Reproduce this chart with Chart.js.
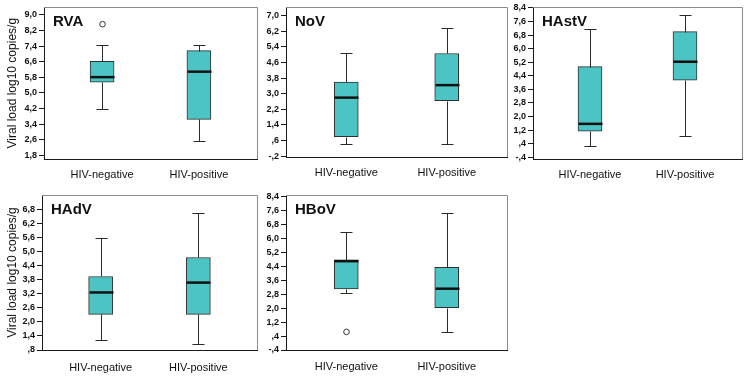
<!DOCTYPE html>
<html><head><meta charset="utf-8">
<script src="https://cdn.jsdelivr.net/npm/chart.js@4.4.0/dist/chart.umd.min.js"></script>
<style>
html,body{margin:0;padding:0;background:#fff;}
#wrap{position:relative;width:750px;height:379px;overflow:hidden;background:#fff;}
canvas{position:absolute;}
</style></head><body>
<div id="wrap">
<canvas id="c0"></canvas><canvas id="c1"></canvas><canvas id="c2"></canvas><canvas id="c3"></canvas><canvas id="c4"></canvas>
</div>
<script>
const groups = ['HIV-negative', 'HIV-positive'];
// each: [lower whisker, Q1, median, Q3, upper whisker]
const rvaNeg = [4.18, 5.55, 5.81, 6.62, 7.44];
const rvaPos = [2.54, 3.65, 6.09, 7.17, 7.44];
const rvaOutliers = [[8.52], []];
const rvaTicks = [1.8, 2.6, 3.4, 4.2, 5.0, 5.8, 6.6, 7.4, 8.2, 9.0];

const novNeg = [0.41, 0.80, 2.80, 3.60, 5.06];
const novPos = [0.41, 2.64, 3.44, 5.06, 6.39];
const novOutliers = [[], []];
const novTicks = [-0.2, 0.6, 1.4, 2.2, 3.0, 3.8, 4.6, 5.4, 6.2, 7.0];

const hastvNeg = [0.28, 1.14, 1.57, 4.94, 7.13];
const hastvPos = [0.87, 4.14, 5.23, 7.00, 7.97];
const hastvOutliers = [[], []];
const hastvTicks = [-0.4, 0.4, 1.2, 2.0, 2.8, 3.6, 4.4, 5.2, 6.0, 6.8, 7.6, 8.4];

const hadvNeg = [1.21, 2.32, 3.25, 3.93, 5.57];
const hadvPos = [1.07, 2.32, 3.67, 4.74, 6.64];
const hadvOutliers = [[], []];
const hadvTicks = [0.8, 1.4, 2.0, 2.6, 3.2, 3.8, 4.4, 5.0, 5.6, 6.2, 6.8];

const hbovNeg = [2.86, 3.10, 4.70, 4.78, 6.39];
const hbovPos = [0.66, 2.03, 3.12, 4.35, 7.48];
const hbovOutliers = [[0.64], []];
const hbovTicks = [-0.4, 0.4, 1.2, 2.0, 2.8, 3.6, 4.4, 5.2, 6.0, 6.8, 7.6, 8.4];

const yTitle = 'Viral load log10 copies/g';

const panels = [
  {id:'c0', name:'RVA', stats:[rvaNeg, rvaPos], out:rvaOutliers, ticks:rvaTicks, min:1.62, max:9.38,
   box:{x:0, y:0, w:262, h:185}, area:{l:44, t:7, r:257, b:159}, title:true, xpad:1},
  {id:'c1', name:'NoV', stats:[novNeg, novPos], out:novOutliers, ticks:novTicks, min:-0.24, max:7.42,
   box:{x:262, y:0, w:250, h:185}, area:{l:286, t:7, r:507, b:157}, title:false, xpad:1},
  {id:'c2', name:'HAstV', stats:[hastvNeg, hastvPos], out:hastvOutliers, ticks:hastvTicks, min:-0.5, max:8.43,
   box:{x:512, y:0, w:238, h:185}, area:{l:533, t:7, r:742, b:159}, title:false, xpad:1},
  {id:'c3', name:'HAdV', stats:[hadvNeg, hadvPos], out:hadvOutliers, ticks:hadvTicks, min:0.8, max:7.4,
   box:{x:0, y:185, w:262, h:194}, area:{l:42, t:195, r:257, b:350}, title:true, xpad:3},
  {id:'c4', name:'HBoV', stats:[hbovNeg, hbovPos], out:hbovOutliers, ticks:hbovTicks, min:-0.4, max:8.5,
   box:{x:262, y:185, w:250, h:194}, area:{l:286, t:195, r:507, b:350}, title:false, xpad:2}
];

function fmt(v) {
  let s = (Math.round(v * 10) / 10).toFixed(1).replace('.', ',');
  s = s.replace(/^0,/, ',').replace(/^-0,/, '-,');
  return s;
}

const panelById = {};
const boxDecor = {
  id: 'boxDecor',
  afterDatasetsDraw(chart) {
    const p = panelById[chart.canvas.id];
    const ctx = chart.ctx, xs = chart.scales.x, ys = chart.scales.y, a = chart.chartArea;
    ctx.save();
    ctx.strokeStyle = '#8a8a8a'; ctx.lineWidth = 1;
    ctx.beginPath();
    ctx.moveTo(a.left, Math.round(a.top) + 0.5); ctx.lineTo(Math.round(a.right) + 0.5, Math.round(a.top) + 0.5);
    ctx.lineTo(Math.round(a.right) + 0.5, a.bottom);
    ctx.stroke();
    const meta = chart.getDatasetMeta(0);
    p.stats.forEach((s, i) => {
      const bar = meta.data[i];
      const cx = Math.round(xs.getPixelForValue(i)) + 0.5;
      const bw = bar.width;
      const cap = bw / 4;
      const Y = v => Math.round(ys.getPixelForValue(v)) + 0.5;
      ctx.strokeStyle = '#2a2a2a'; ctx.lineWidth = 1;
      ctx.beginPath();
      ctx.moveTo(cx, Y(s[3])); ctx.lineTo(cx, Y(s[4]));
      ctx.moveTo(cx - cap, Y(s[4])); ctx.lineTo(cx + cap, Y(s[4]));
      ctx.moveTo(cx, Y(s[1])); ctx.lineTo(cx, Y(s[0]));
      ctx.moveTo(cx - cap, Y(s[0])); ctx.lineTo(cx + cap, Y(s[0]));
      ctx.stroke();
      ctx.strokeStyle = '#111'; ctx.lineWidth = 2.5;
      ctx.beginPath();
      ctx.moveTo(cx - bw / 2, ys.getPixelForValue(s[2]));
      ctx.lineTo(cx + bw / 2, ys.getPixelForValue(s[2]));
      ctx.stroke();
      ctx.lineWidth = 1; ctx.strokeStyle = '#333'; ctx.fillStyle = '#fff';
      p.out[i].forEach(v => {
        ctx.beginPath();
        ctx.arc(cx, ys.getPixelForValue(v), 2.8, 0, Math.PI * 2);
        ctx.fill(); ctx.stroke();
      });
    });
    ctx.fillStyle = '#111';
    ctx.font = 'bold 15px "Liberation Sans", Arial, sans-serif';
    ctx.textAlign = 'left'; ctx.textBaseline = 'alphabetic';
    ctx.fillText(p.name, a.left + 9, a.top + 19);
    ctx.restore();
  }
};

Chart.defaults.font.family = '"Liberation Sans", Arial, sans-serif';
Chart.defaults.color = '#111';

panels.forEach(p => {
  panelById[p.id] = p;
  const cv = document.getElementById(p.id);
  cv.width = p.box.w; cv.height = p.box.h;
  cv.style.left = p.box.x + 'px'; cv.style.top = p.box.y + 'px';
  cv.style.width = p.box.w + 'px'; cv.style.height = p.box.h + 'px';
  const areaL = p.area.l - p.box.x, areaT = p.area.t - p.box.y;
  const areaR = p.area.r - p.box.x, areaB = p.area.b - p.box.y;
  new Chart(cv, {
    type: 'bar',
    data: {
      datasets: [{
        data: p.stats.map((s, i) => ({x: i, y: [s[1], s[3]]})),
        backgroundColor: '#4bc4c3',
        borderColor: '#2f2f2f',
        borderWidth: 1,
        borderSkipped: false,
        barThickness: 24
      }]
    },
    options: {
      responsive: false,
      animation: false,
      devicePixelRatio: 1,
      layout: {padding: {left: 0, top: areaT, right: p.box.w - areaR, bottom: 0}},
      plugins: {legend: {display: false}, tooltip: {enabled: false}},
      scales: {
        x: {
          type: 'linear', min: -0.6, max: 1.6, offset: false,
          grid: {display: false},
          border: {display: true, color: '#1a1a1a', width: 1},
          afterBuildTicks: s => { s.ticks = groups.map((g, i) => ({value: i})); },
          afterFit: s => { s.height = p.box.h - areaB; },
          ticks: {callback: v => groups[v], maxRotation: 0, autoSkip: false, padding: p.xpad,
                  font: {size: 11}, color: '#111'}
        },
        y: {
          type: 'linear', min: p.min, max: p.max,
          grid: {drawOnChartArea: false, drawTicks: true, tickLength: 5, color: '#1a1a1a'},
          border: {display: true, color: '#1a1a1a', width: 1},
          afterBuildTicks: s => { s.ticks = p.ticks.map(v => ({value: v})); },
          afterFit: s => { s.width = areaL; },
          ticks: {callback: v => fmt(v), padding: 2, autoSkip: false,
                  font: {size: 9, weight: 'bold'}, color: '#111'},
          title: {display: p.title, text: yTitle, font: {size: 12}, color: '#111',
                  padding: {top: 5, bottom: 0}}
        }
      }
    },
    plugins: [boxDecor]
  });
});
</script>
</body></html>
